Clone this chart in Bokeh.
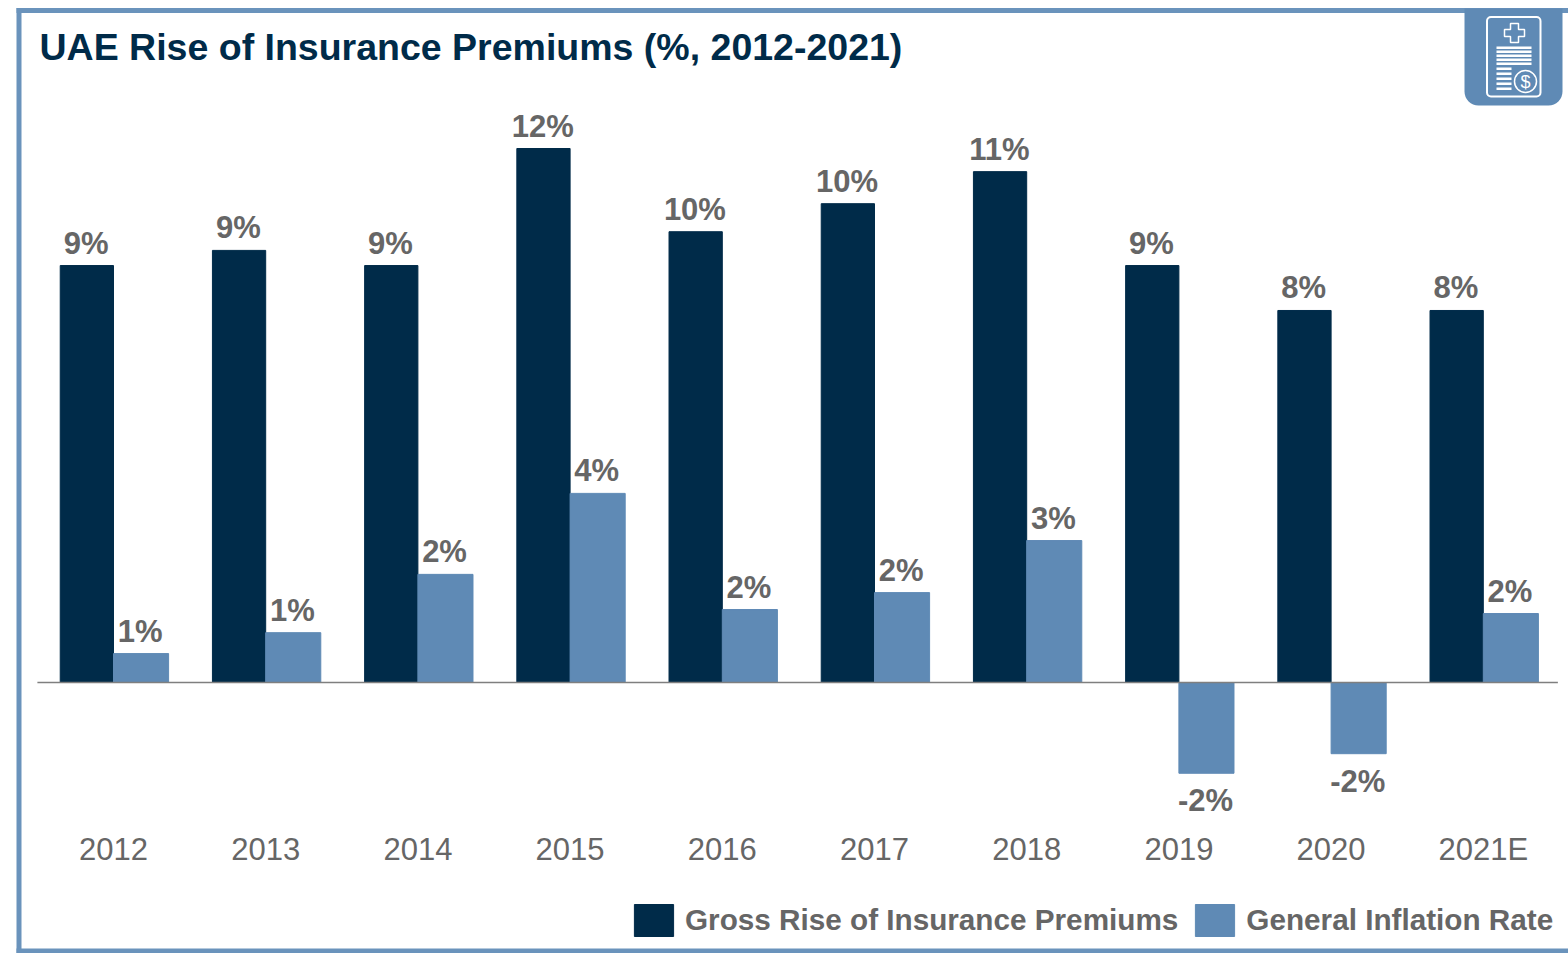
from bokeh.plotting import figure
from bokeh.embed import file_html
from bokeh.resources import INLINE
from bokeh.core.properties import value
from bokeh.models import (BoxAnnotation, PolyAnnotation, Label, Legend, LegendItem,
                          FixedTicker, ColumnDataSource, Range1d)

TITLE = "UAE Rise of Insurance Premiums (%, 2012-2021)"
years = ["2012", "2013", "2014", "2015", "2016", "2017", "2018", "2019", "2020", "2021E"]
gross = [9.37, 9.71, 9.37, 12.0, 10.13, 10.76, 11.48, 9.37, 8.36, 8.36]
inflation = [0.65, 1.12, 2.43, 4.25, 1.64, 2.02, 3.19, -2.04, -1.6, 1.55]
gross_labels = ["9%", "9%", "9%", "12%", "10%", "10%", "11%", "9%", "8%", "8%"]
inflation_labels = ["1%", "1%", "2%", "4%", "2%", "2%", "3%", "-2%", "-2%", "2%"]
series_names = ["Gross Rise of Insurance Premiums", "General Inflation Rate"]

NAVY = "#002B49"
BLUE = "#5F8AB5"
EDGE = "#6A93BC"
GREY = "#666666"
FONT = "Liberation Sans"
W, H = 1568, 953
ZERO, PXY = 682, 44.5
X0, PXX = 113, 152.2

p = figure(width=W, height=H, output_backend="svg", toolbar_location=None,
           x_range=Range1d(-X0 / PXX, (W - X0) / PXX),
           y_range=Range1d(-(H - ZERO) / PXY, ZERO / PXY),
           min_border_left=0, min_border_right=0, min_border_top=0, min_border_bottom=0)
p.grid.visible = False
p.outline_line_color = None
p.yaxis.visible = False

ax = p.xaxis[0]
ax.fixed_location = -(819 - ZERO) / PXY
ax.ticker = FixedTicker(ticks=list(range(len(years))))
ax.major_label_overrides = {i: y for i, y in enumerate(years)}
ax.axis_line_color = None
ax.major_tick_line_color = None
ax.minor_tick_line_color = None
ax.major_label_standoff = 6
ax.major_label_text_font = FONT
ax.major_label_text_font_size = "31px"
ax.major_label_text_color = GREY

xs = list(range(len(years)))
src = ColumnDataSource(dict(
    xg=[x - 0.175 for x in xs], xi=[x + 0.181 for x in xs],
    gross=gross, inflation=inflation,
))
r1 = p.vbar(x="xg", top="gross", bottom=0, width=0.35, color=NAVY, source=src)
r2 = p.vbar(x="xi", top="inflation", bottom=0, width=0.362, color=BLUE, source=src)
p.segment(x0=[-0.5], x1=[9.49], y0=[0], y1=[0], line_color="#7F7F7F", line_width=1.5)

common = dict(text_font=value(FONT), text_font_style="bold", text_font_size=value("31px"),
              text_color="#666666", text_align="center")
p.text(x=[x - 0.18 for x in xs], y=gross, text=gross_labels, text_baseline="bottom", y_offset=-5, **common)
pos = [i for i, v in enumerate(inflation) if v > 0]
neg = [i for i, v in enumerate(inflation) if v < 0]
p.text(x=[i + 0.175 for i in pos], y=[inflation[i] for i in pos], text=[inflation_labels[i] for i in pos],
       text_baseline="bottom", y_offset=-5, **common)
p.text(x=[i + 0.175 for i in neg], y=[inflation[i] for i in neg], text=[inflation_labels[i] for i in neg],
       text_baseline="top", y_offset=10, **common)

legend = Legend(items=[LegendItem(label=series_names[0], renderers=[r1]),
                       LegendItem(label=series_names[1], renderers=[r2])],
                orientation="horizontal", location=(629, 13),
                glyph_width=49, glyph_height=40, label_standoff=7, spacing=12,
                padding=0, margin=0, border_line_color=None, background_fill_alpha=0,
                label_text_font=FONT, label_text_font_style="bold", label_text_font_size="29.7px",
                label_text_color=GREY, label_height=33)
p.add_layout(legend, "center")

p.add_layout(Label(x=39, y=46, x_units="canvas", y_units="canvas", text=TITLE,
                   text_font=FONT, text_font_size="37.5px", text_font_style="bold",
                   text_color=NAVY, text_align="left", text_baseline="middle"))


def box(l, t, r, b, **kw):
    """Rectangle in canvas pixels."""
    kw.setdefault("line_color", None)
    kw.setdefault("line_alpha", 1)
    bx = BoxAnnotation(left=l, right=r, top=t, bottom=b,
                       left_units="canvas", right_units="canvas",
                       top_units="canvas", bottom_units="canvas", **kw)
    p.add_layout(bx)
    return bx


# panel border
box(16, 7.5, 1568, 12.5, fill_color=EDGE, fill_alpha=1)
box(16, 7.5, 21, 953, fill_color=EDGE, fill_alpha=1)
box(16, 948, 1568, 953, fill_color=EDGE, fill_alpha=1)

# icon tab
box(1464, 8, 1562, 105, fill_color=BLUE, fill_alpha=1, border_radius=(0, 0, 14, 14))
box(1486.5, 16.5, 1540, 96, fill_alpha=0, line_color="white", line_width=2, border_radius=4)
cx = [1510, 1518, 1518, 1524, 1524, 1518, 1518, 1510, 1510, 1504, 1504, 1510]
cy = [23, 23, 29, 29, 36, 36, 42, 42, 36, 36, 29, 29]
p.add_layout(PolyAnnotation(xs=cx, ys=cy, xs_units="canvas", ys_units="canvas",
                            fill_alpha=0, line_color="white", line_alpha=1, line_width=1.5))
for t, r in [(46, 1531), (50, 1531), (54, 1531), (58, 1531), (62, 1531), (67, 1511),
             (72, 1511), (77, 1511), (82, 1511), (87, 1511)]:
    box(1496, t, r, t + 2.4, fill_color="white", fill_alpha=1)
box(1514, 70, 1536, 92, fill_color=BLUE, fill_alpha=1, line_color="white", line_width=1.5, border_radius=11)
p.add_layout(Label(x=1525, y=81, x_units="canvas", y_units="canvas", text="$",
                   text_font=FONT, text_font_size="18px", text_color="white",
                   text_align="center", text_baseline="middle"))

open("out.html", "w").write(file_html(p, INLINE))
